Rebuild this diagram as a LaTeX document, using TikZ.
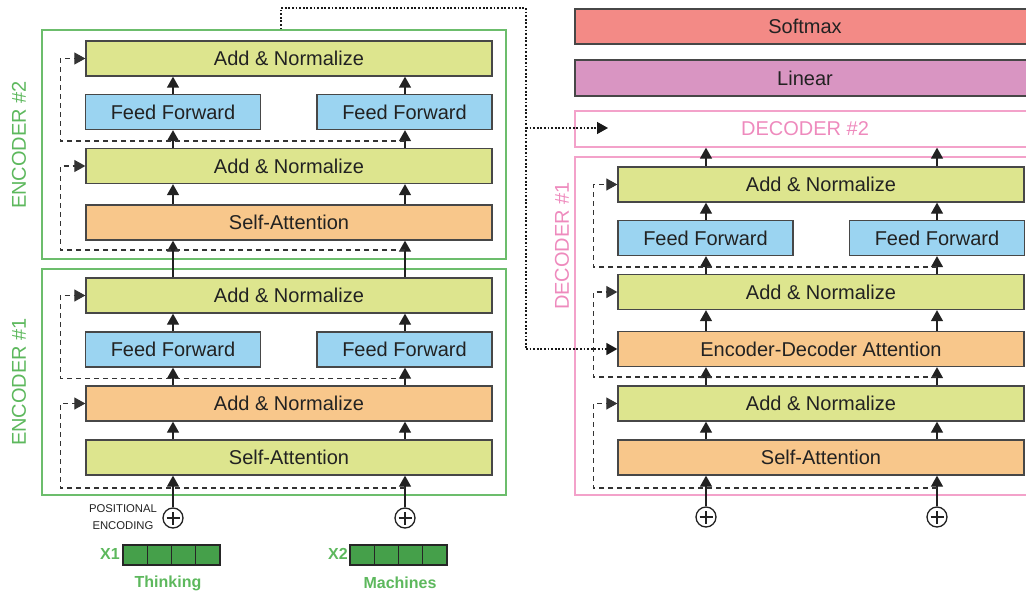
\documentclass[tikz,border=0pt]{standalone}
\usepackage{fontspec}
\setmainfont{Liberation Sans}
\usetikzlibrary{arrows.meta,calc}
\definecolor{ygreen}{HTML}{DDE58E}
\definecolor{ffblue}{HTML}{9BD4F1}
\definecolor{orng}{HTML}{F8C78B}
\definecolor{salmon}{HTML}{F38A86}
\definecolor{mauve}{HTML}{D995C2}
\definecolor{encgreen}{HTML}{6CBD6C}
\definecolor{enctext}{HTML}{5DB85D}
\definecolor{pinkline}{HTML}{F3A2CA}
\definecolor{pinktext}{HTML}{EE8ABD}
\definecolor{tokgreen}{HTML}{45A04A}
\definecolor{inkc}{HTML}{222222}
\tikzset{
  blk/.style={draw=black!72, line width=1.3pt, inner sep=0pt, minimum height=35pt,
    font=\fontsize{20}{22}\selectfont, text=inkc},
  an/.style={blk, fill=ygreen, minimum width=406pt},
  wide/.style={blk, minimum width=406pt},
  ff/.style={blk, fill=ffblue, minimum width=175pt},
  arr/.style={line width=1.3pt, draw=inkc, -{Triangle[length=11pt,width=12pt]}},
  res/.style={line width=1.1pt, draw=black!80, dash pattern=on 5pt off 4pt, -{Triangle[length=11pt,width=12pt]}},
  dotl/.style={line width=1.4pt, draw=black!90, dash pattern=on 1.8pt off 1.8pt},
  dotarr/.style={dotl, -{Triangle[length=11pt,width=12pt]}},
  encbox/.style={draw=encgreen, line width=1.3pt, inner sep=0pt, minimum width=464pt},
  decbox/.style={draw=pinkline, line width=1.3pt, inner sep=0pt, minimum width=460pt},
  enclabel/.style={rotate=90, text=enctext, font=\fontsize{20}{22}\selectfont},
  plusnode/.style={circle, draw=inkc, line width=1.3pt, minimum size=20pt, inner sep=0pt, fill=white,
    path picture={\draw[line width=1.3pt, draw=inkc]
      ([xshift=-6.5pt]path picture bounding box.center) -- ([xshift=6.5pt]path picture bounding box.center)
      ([yshift=-6.5pt]path picture bounding box.center) -- ([yshift=6.5pt]path picture bounding box.center);}},
  tok/.style={draw=black!85, line width=1.2pt, fill=tokgreen, minimum width=24.25pt, minimum height=20pt, inner sep=0pt},
  toklabel/.style={text=enctext, font=\fontsize{16}{18}\bfseries\selectfont},
}
\begin{document}
\begin{tikzpicture}[x=1pt,y=-1pt]
\useasboundingbox (0,0) rectangle (1026,594);
\clip (0,0) rectangle (1026,594);

% ---------------- Encoder containers ----------------
\node[encbox, minimum height=229pt] (enc2) at (274,144.5) {};
\node[encbox, minimum height=226pt] (enc1) at (274,382) {};
\node[enclabel] (lenc2) at (19,145) {ENCODER \#2};
\node[enclabel] (lenc1) at (19,382) {ENCODER \#1};

% ---------------- Encoder #2 ----------------
\node[an] (e2an2) at (289,58.5) {Add \& Normalize};
\node[ff] (e2ffl) at (173,112) {Feed Forward};
\node[ff] (e2ffr) at (404.5,112) {Feed Forward};
\node[an] (e2an1) at (289,166) {Add \& Normalize};
\node[wide, fill=orng] (e2sa) at (289,222.5) {Self-Attention};

% ---------------- Encoder #1 ----------------
\node[an] (e1an2) at (289,295.5) {Add \& Normalize};
\node[ff] (e1ffl) at (173,349.5) {Feed Forward};
\node[ff] (e1ffr) at (404.5,349.5) {Feed Forward};
\node[wide, fill=orng] (e1an1) at (289,403.5) {Add \& Normalize};
\node[an] (e1sa) at (289,457.5) {Self-Attention};

% inputs
\node[plusnode] (p1) at (173,518) {};
\node[plusnode] (p2) at (405,518) {};
\node[align=center, text=inkc, font=\fontsize{11.3}{17}\selectfont] (posenc) at (123,517) {POSITIONAL\\ENCODING};

\foreach \i in {0,...,3} {
  \node[tok] (ta\i) at ({135.125+24.25*\i},555) {};
  \node[tok] (tb\i) at ({362.125+24.25*\i},555) {};
}
\node[toklabel] (x1) at (110,554) {X1};
\node[toklabel] (x2) at (338,554) {X2};
\node[toklabel] (w1) at (168,583) {Thinking};
\node[toklabel] (w2) at (400,583) {Machines};

% encoder vertical arrows (two columns)
\foreach \c in {p1,p2} {
  \draw[arr] (\c.north) -- (e1sa.south -| \c);
  \draw[arr] (e1sa.north -| \c) -- (e1an1.south -| \c);
  \draw[arr] (e1an2.north -| \c) -- (e2sa.south -| \c);
  \draw[arr] (e2sa.north -| \c) -- (e2an1.south -| \c);
}
\draw[arr] (e1an1.north -| p1) -- (e1ffl.south);
\draw[arr] (e1an1.north -| p2) -- (e1ffr.south -| p2);
\draw[arr] (e1ffl.north) -- (e1an2.south -| p1);
\draw[arr] (e1ffr.north -| p2) -- (e1an2.south -| p2);
\draw[arr] (e2an1.north -| p1) -- (e2ffl.south);
\draw[arr] (e2an1.north -| p2) -- (e2ffr.south -| p2);
\draw[arr] (e2ffl.north) -- (e2an2.south -| p1);
\draw[arr] (e2ffr.north -| p2) -- (e2an2.south -| p2);

% encoder residual connections
\coordinate (re1a) at (405,488);
\coordinate (re1b) at (405,378.5);
\coordinate (re2a) at (405,250);
\coordinate (re2b) at (405,141);
\draw[res] (re1a) -| ([xshift=-25pt]e1an1.west) -- (e1an1.west);
\draw[res] (re1b) -| ([xshift=-25pt]e1an2.west) -- (e1an2.west);
\draw[res] (re2a) -| ([xshift=-25pt]e2an1.west) -- (e2an1.west);
\draw[res] (re2b) -| ([xshift=-25pt]e2an2.west) -- (e2an2.west);

% ---------------- Decoder side ----------------
\node[blk, fill=salmon, minimum width=460pt] (softmax) at (805,26.5) {Softmax};
\node[blk, fill=mauve, minimum width=460pt, minimum height=36pt] (linear) at (805,78) {Linear};
\node[decbox, minimum height=36pt, text=pinktext, font=\fontsize{20}{22}\selectfont] (dec2) at (805,129) {DECODER \#2};
\node[decbox, minimum height=338pt] (dec1) at (805,326) {};
\node[rotate=90, text=pinktext, font=\fontsize{20}{22}\selectfont] (ldec1) at (562,246) {DECODER \#1};

\node[an] (dan3) at (821,184.5) {Add \& Normalize};
\node[ff] (dffl) at (705.5,238) {Feed Forward};
\node[ff] (dffr) at (937,238) {Feed Forward};
\node[an] (dan2) at (821,292) {Add \& Normalize};
\node[wide, fill=orng] (edatt) at (821,349) {Encoder-Decoder Attention};
\node[an] (dan1) at (821,403.5) {Add \& Normalize};
\node[wide, fill=orng] (dsa) at (821,457.5) {Self-Attention};

\node[plusnode] (dp1) at (706,517) {};
\node[plusnode] (dp2) at (937,517) {};

\foreach \c in {dp1,dp2} {
  \draw[arr] (\c.north) -- (dsa.south -| \c);
  \draw[arr] (dsa.north -| \c) -- (dan1.south -| \c);
  \draw[arr] (dan1.north -| \c) -- (edatt.south -| \c);
  \draw[arr] (edatt.north -| \c) -- (dan2.south -| \c);
  \draw[arr] (dan3.north -| \c) -- (dec2.south -| \c);
}
\draw[arr] (dan2.north -| dp1) -- (dffl.south -| dp1);
\draw[arr] (dan2.north -| dp2) -- (dffr.south -| dp2);
\draw[arr] (dffl.north -| dp1) -- (dan3.south -| dp1);
\draw[arr] (dffr.north -| dp2) -- (dan3.south -| dp2);

\coordinate (rd1) at (937,488);
\coordinate (rd2) at (937,377);
\coordinate (rd3) at (937,267);
\draw[res] (rd1) -| ([xshift=-24pt]dan1.west) -- (dan1.west);
\draw[res] (rd2) -| ([xshift=-24pt]dan2.west) -- (dan2.west);
\draw[res] (rd3) -| ([xshift=-24pt]dan3.west) -- (dan3.west);

% ---------------- Encoder output to decoders (dotted) ----------------
\coordinate (dtop) at (281,8);
\coordinate (dcor) at (526,8);
\coordinate (dmid) at (526,128);
\coordinate (dbot) at (526,349);
\coordinate (d2tip) at (608,128);
\draw[dotl] ([xshift=7pt]enc2.north) -- (dtop) -- (dcor) -- (dbot);
\draw[dotarr] (dmid) -- (d2tip);
\draw[dotarr] (dbot) -- (edatt.west);
\end{tikzpicture}
\end{document}
